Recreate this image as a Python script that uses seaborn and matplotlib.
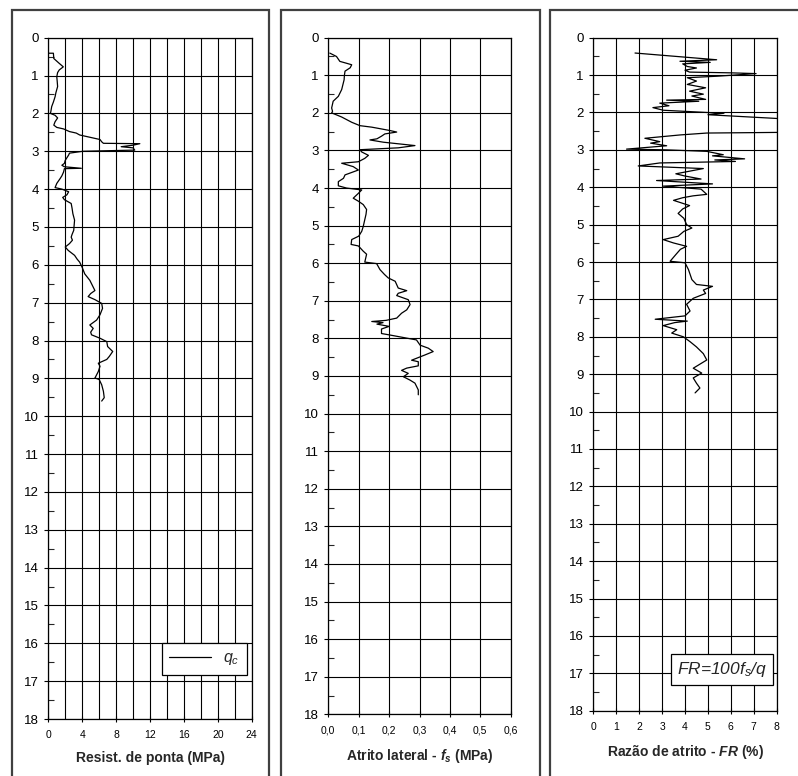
import numpy as np
import pandas as pd
import matplotlib
matplotlib.use("Agg")
import matplotlib.pyplot as plt
import seaborn as sns
from matplotlib.patches import Rectangle
from matplotlib.lines import Line2D
from matplotlib.ticker import MultipleLocator, FixedLocator

# ---------------- data ----------------
depth_qc = [0.41, 0.41, 0.55, 0.62, 0.68, 0.77, 0.85, 0.92, 1.03, 1.15, 1.29, 1.45, 1.56, 1.70, 1.82,
            1.95, 2.00, 2.05, 2.12, 2.22, 2.31, 2.37, 2.41, 2.48, 2.52, 2.57, 2.63, 2.69, 2.75, 2.79,
            2.80, 2.84, 2.88, 2.91, 2.97, 3.00, 3.05, 3.10, 3.17, 3.24, 3.32, 3.37, 3.41, 3.45, 3.46,
            3.55, 3.65, 3.72, 3.85, 3.96, 4.00, 4.07, 4.15, 4.22, 4.28, 4.38, 4.50, 4.65, 4.82, 4.95,
            5.09, 5.20, 5.27, 5.35, 5.44, 5.53, 5.62, 5.75, 5.85, 5.93, 6.07, 6.24, 6.41, 6.50, 6.59,
            6.68, 6.76, 6.84, 6.92, 7.02, 7.15, 7.32, 7.46, 7.59, 7.68, 7.78, 7.85, 7.94, 8.03, 8.16,
            8.29, 8.42, 8.50, 8.60, 8.68, 8.82, 8.95, 8.99, 9.03, 9.17, 9.34, 9.51, 9.60]
qc = [0.05, 0.6, 0.65, 1.0, 1.3, 1.77, 1.3, 1.1, 1.0, 1.05, 1.1, 0.9, 0.8, 0.6, 0.4,
      0.3, 0.25, 0.8, 1.1, 0.8, 0.65, 1.0, 1.8, 2.5, 3.3, 3.7, 4.9, 6.1, 6.3, 6.5,
      10.8, 10.0, 8.6, 10.0, 10.2, 4.1, 2.5, 2.4, 2.2, 2.0, 1.9, 1.6, 1.9, 3.9, 1.9,
      1.8, 1.6, 1.4, 1.0, 0.8, 1.6, 2.4, 2.2, 1.7, 1.9, 2.7, 2.8, 2.9, 3.1, 3.05,
      3.0, 2.8, 2.7, 2.85, 2.5, 2.0, 2.35, 3.1, 3.4, 3.7, 4.0, 4.3, 4.9, 5.1, 5.3,
      5.5, 5.0, 4.7, 5.5, 6.3, 6.4, 6.1, 5.7, 4.9, 5.3, 5.0, 5.1, 6.1, 6.9, 7.0,
      7.6, 7.2, 6.9, 5.9, 6.1, 5.9, 5.6, 5.5, 6.0, 6.3, 6.5, 6.6, 6.3]

depth_fs = [0.41, 0.50, 0.63, 0.68, 0.72, 0.80, 0.89, 1.00, 1.12, 1.25, 1.38, 1.56, 1.69, 1.87, 1.96,
            2.00, 2.11, 2.25, 2.34, 2.38, 2.42, 2.47, 2.51, 2.56, 2.62, 2.69, 2.72, 2.78, 2.87, 2.93,
            2.98, 3.04, 3.13, 3.21, 3.30, 3.34, 3.43, 3.52, 3.65, 3.74, 3.83, 3.94, 4.00, 4.05, 4.14,
            4.27, 4.35, 4.44, 4.57, 4.70, 4.84, 5.02, 5.15, 5.28, 5.37, 5.50, 5.54, 5.68, 5.76, 5.97,
            6.01, 6.17, 6.30, 6.39, 6.48, 6.66, 6.73, 6.80, 6.86, 6.97, 7.10, 7.24, 7.33, 7.46, 7.52,
            7.55, 7.58, 7.62, 7.68, 7.75, 7.87, 7.91, 8.00, 8.04, 8.18, 8.26, 8.35, 8.44, 8.58, 8.62,
            8.73, 8.79, 8.85, 8.93, 9.02, 9.11, 9.19, 9.37, 9.50]
fs = [0.005, 0.027, 0.038, 0.060, 0.077, 0.072, 0.055, 0.053, 0.052, 0.048, 0.044, 0.033, 0.016, 0.011, 0.014,
      0.011, 0.044, 0.077, 0.104, 0.143, 0.170, 0.203, 0.225, 0.186, 0.175, 0.160, 0.137, 0.181, 0.285, 0.230,
      0.104, 0.110, 0.132, 0.120, 0.099, 0.044, 0.082, 0.099, 0.055, 0.050, 0.033, 0.033, 0.060, 0.110, 0.099,
      0.082, 0.099, 0.115, 0.126, 0.124, 0.120, 0.115, 0.110, 0.100, 0.077, 0.075, 0.099, 0.115, 0.126, 0.120,
      0.159, 0.170, 0.185, 0.197, 0.220, 0.230, 0.258, 0.230, 0.225, 0.263, 0.269, 0.258, 0.241, 0.225, 0.190,
      0.143, 0.180, 0.160, 0.200, 0.175, 0.175, 0.203, 0.263, 0.290, 0.302, 0.329, 0.345, 0.318, 0.274, 0.296,
      0.296, 0.258, 0.241, 0.263, 0.247, 0.269, 0.285, 0.296, 0.296]

depth_fr = [0.41, 0.59, 0.63, 0.66, 0.70, 0.77, 0.81, 0.87, 0.92, 0.94, 0.96, 1.03, 1.07, 1.16, 1.25,
            1.34, 1.43, 1.51, 1.56, 1.65, 1.67, 1.70, 1.75, 1.82, 1.87, 1.94, 2.00, 2.02, 2.06, 2.18,
            2.53, 2.55, 2.60, 2.69, 2.78, 2.82, 2.89, 2.98, 3.00, 3.04, 3.13, 3.16, 3.24, 3.27, 3.31,
            3.35, 3.43, 3.50, 3.64, 3.70, 3.78, 3.82, 3.91, 3.97, 4.05, 4.19, 4.23, 4.28, 4.35, 4.49,
            4.58, 4.70, 4.83, 5.00, 5.09, 5.18, 5.31, 5.40, 5.49, 5.58, 5.66, 5.80, 5.98, 6.02, 6.20,
            6.47, 6.60, 6.65, 6.75, 6.84, 6.97, 7.13, 7.31, 7.44, 7.53, 7.58, 7.62, 7.70, 7.81, 7.90,
            8.00, 8.13, 8.27, 8.45, 8.62, 8.84, 8.97, 9.10, 9.24, 9.37, 9.50]
fr = [1.82, 5.38, 3.78, 5.1, 3.9, 4.1, 4.5, 4.0, 4.2, 6.0, 7.1, 5.4, 4.1, 4.5, 4.1,
      4.9, 4.2, 4.8, 4.3, 4.9, 3.2, 4.6, 2.9, 3.3, 2.6, 3.05, 4.95, 5.7, 5.0, 8.6,
      8.6, 4.95, 3.8, 2.25, 2.9, 2.5, 3.2, 1.45, 3.2, 4.95, 5.67, 5.2, 6.6, 5.3, 6.2,
      2.9, 1.96, 4.8, 3.6, 4.0, 4.7, 2.76, 5.2, 3.05, 4.7, 4.95, 4.35, 3.9, 3.5, 4.2,
      3.9, 3.7, 3.95, 4.07, 4.3, 3.95, 3.7, 3.05, 3.5, 4.07, 3.8, 3.6, 3.35, 4.0, 4.15,
      4.3, 4.5, 5.2, 4.8, 4.9, 4.36, 4.07, 4.22, 4.0, 2.7, 4.1, 3.55, 3.05, 3.64, 3.42,
      3.93, 4.22, 4.5, 4.8, 4.95, 4.36, 4.73, 4.36, 4.5, 4.65, 4.44]

qc_ticks = [0, 4, 8, 12, 16, 20, 24]
fs_ticks = [0.0, 0.1, 0.2, 0.3, 0.4, 0.5, 0.6]
fs_tick_labels = ["0,0", "0,1", "0,2", "0,3", "0,4", "0,5", "0,6"]
fr_ticks = [0, 1, 2, 3, 4, 5, 6, 7, 8]
depth_ticks = list(range(0, 19))

# ---------------- style ----------------
sns.set_style("white")
plt.rcParams["font.family"] = ["Liberation Sans", "DejaVu Sans"]
plt.rcParams["mathtext.fontset"] = "custom"
plt.rcParams["mathtext.rm"] = "Liberation Sans"
plt.rcParams["mathtext.it"] = "Liberation Sans:italic"
plt.rcParams["mathtext.bf"] = "Liberation Sans:bold:italic"

W, H = 798, 776
fig = plt.figure(figsize=(W / 100, H / 100), dpi=100)

# panel frames (pixels)
frames = [(12, 269), (281, 540), (550, 800)]
for x0, x1 in frames:
    fig.patches.append(Rectangle((x0 / W, -0.02), (x1 - x0) / W, 1 - 10 / H + 0.02,
                                 transform=fig.transFigure, fill=False,
                                 edgecolor="#404040", linewidth=1.6, zorder=0))

# axes rectangles in pixels: (left, right, top, bottom)
boxes = [(48.3, 251.7, 37.7, 719.0), (328.3, 510.7, 37.7, 714.3), (593.3, 776.7, 37.7, 710.7)]
axes = []
for l, r, t, b in boxes:
    ax = fig.add_axes([l / W, 1 - b / H, (r - l) / W, (b - t) / H])
    axes.append(ax)

panels = [
    (depth_qc, qc, (0, 24), 2, qc_ticks, [str(t) for t in qc_ticks], "Resist. de ponta (MPa)"),
    (depth_fs, fs, (0, 0.6), 0.1, fs_ticks, fs_tick_labels, r"Atrito lateral - $\mathbf{f}_{\mathbf{s}}$ (MPa)"),
    (depth_fr, fr, (0, 8), 1, fr_ticks, [str(t) for t in fr_ticks], r"Razão de atrito - $\mathbf{FR}$ (%)"),
]

for ax, (dep, val, xlim, xgrid, xt, xtl, xlabel) in zip(axes, panels):
    df = pd.DataFrame({"depth": dep, "val": val})
    sns.lineplot(data=df, x="val", y="depth", sort=False, estimator=None,
                 color="black", linewidth=0.9, ax=ax)
    ax.set_xlim(*xlim)
    ax.set_ylim(18, 0)
    ax.xaxis.set_minor_locator(MultipleLocator(xgrid))
    ax.set_xticks(xt)
    ax.set_xticklabels(xtl)
    ax.set_yticks(depth_ticks)
    ax.set_yticklabels([str(d) for d in depth_ticks])
    ax.yaxis.set_minor_locator(FixedLocator([d + 0.5 for d in range(18)]))
    ax.grid(True, which="major", axis="y", color="black", linewidth=0.8)
    ax.grid(True, which="minor", axis="x", color="black", linewidth=0.8)
    ax.grid(True, which="major", axis="x", color="black", linewidth=0.8)
    ax.set_axisbelow(True)
    for s in ax.spines.values():
        s.set_color("black")
        s.set_linewidth(0.9)
    ax.tick_params(axis="y", which="major", direction="out", length=3, width=0.8,
                   labelsize=9.5, pad=4, colors="black", left=True)
    ax.tick_params(axis="y", which="minor", direction="in", length=4, width=0.8, left=True)
    ax.tick_params(axis="x", which="major", direction="inout", length=4, width=0.8,
                   labelsize=7.5, pad=6, colors="black", bottom=True)
    ax.tick_params(axis="x", which="minor", length=0)
    ax.set_xlabel(xlabel, fontsize=10, fontweight="bold", labelpad=8)
    ax.set_ylabel("")

# legend in first panel
leg = axes[0].legend(handles=[Line2D([0], [0], color="black", linewidth=0.9)], labels=[r"$q_c$"],
                     loc="upper right", bbox_to_anchor=(0.977, 1 - 16.0 / 18),
                     borderaxespad=0, fancybox=False, framealpha=1, edgecolor="black",
                     fontsize=11.5, handlelength=2.6, borderpad=0.45, handletextpad=0.8)
leg.get_frame().set_linewidth(0.9)

# formula box in third panel
axes[2].text(0.945, 1 - 16.9 / 18, r"$FR$=100$f_s$/$q$", transform=axes[2].transAxes,
             ha="right", va="center", fontsize=12.5, fontstyle="italic",
             bbox=dict(boxstyle="square,pad=0.35", facecolor="white", edgecolor="black", linewidth=0.9))

fig.savefig("out.png", dpi=100)
